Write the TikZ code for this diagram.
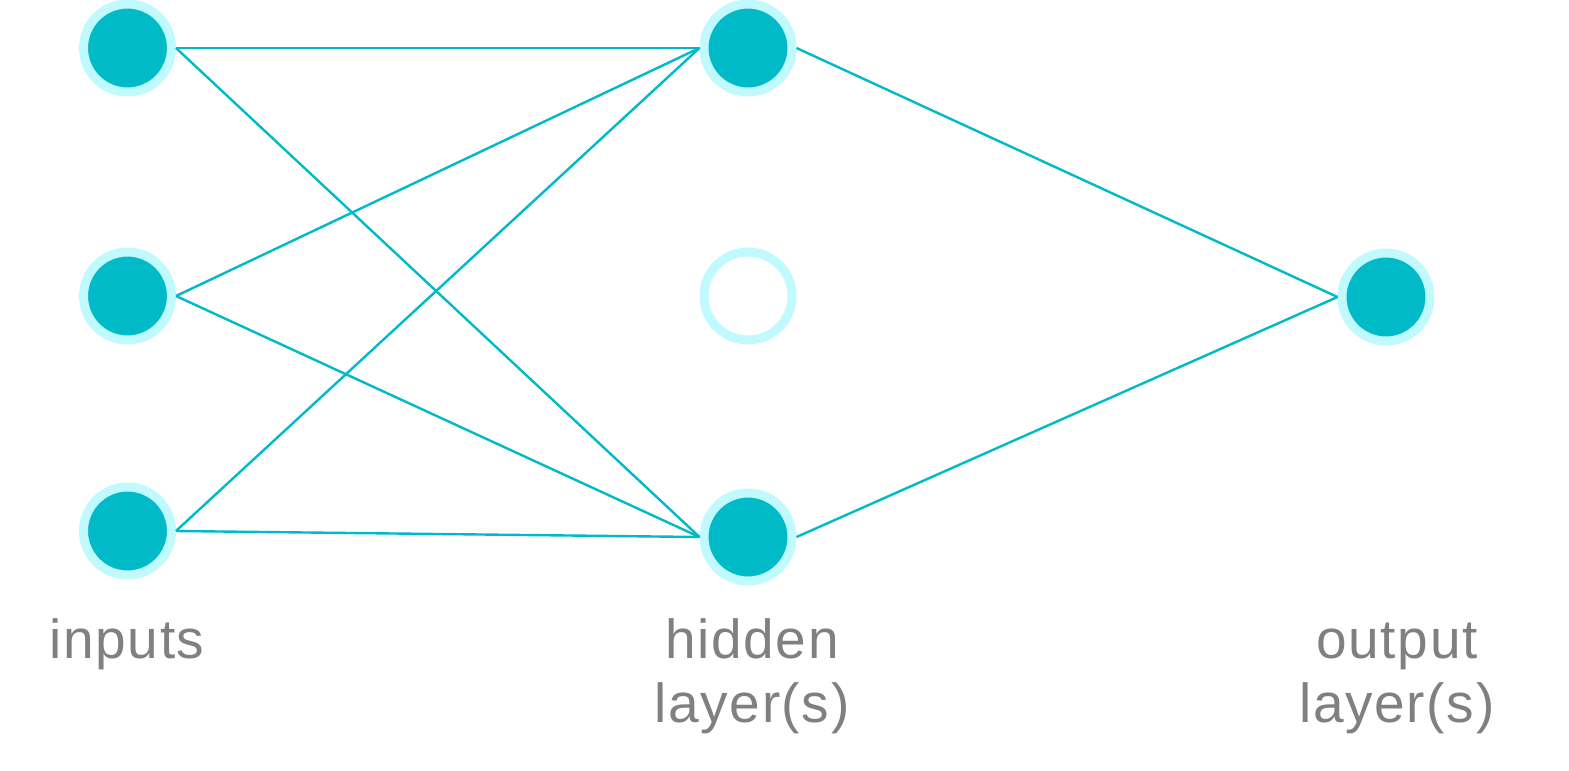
\documentclass[tikz,border=0pt]{standalone}
\usepackage{fontspec}
\setmainfont[LetterSpace=3]{Liberation Sans}
\usepackage{tikz}
\definecolor{cellfill}{RGB}{0,186,200}
\definecolor{cellring}{RGB}{192,250,255}
\definecolor{labelgrey}{RGB}{128,128,128}

\begin{document}
\begin{tikzpicture}[x=1pt,y=-1pt,
  thick,main node/.style={circle,draw=cellring,fill=cellfill,line width=9pt,
    minimum size=88pt,inner sep=0pt},
  empty node/.style={main node,fill=white},
  link/.style={draw=cellfill,line width=2.4pt},
  layer label/.style={text=labelgrey,align=center,anchor=base,
    font=\fontsize{55}{64}\selectfont}]
\useasboundingbox (0,0) rectangle (1569,771);
\node[main node] (i1) at (127.5,48) {};
\node[main node] (i2) at (127.5,296) {};
\node[main node] (i3) at (127.5,531) {};
\node[main node] (h1) at (748,48) {};
\node[empty node] (h2) at (748,296) {};
\node[main node] (h3) at (748,537) {};
\node[main node] (o) at (1386,297) {};
\foreach \a in {i1,i2,i3}
  \foreach \b in {h1,h3}
    \draw [link] (\a.east) -- (\b.west);
\draw [link] (h1.east) -- (o.west);
\draw [link] (h3.east) -- (o.west);
\node[layer label] (inl) at (127,658) {inputs};
\node[layer label] (hidl) at (752,722) {hidden\\layer(s)};
\node[layer label] (outl) at (1397,722) {output\\layer(s)};
\end{tikzpicture}
\end{document}
